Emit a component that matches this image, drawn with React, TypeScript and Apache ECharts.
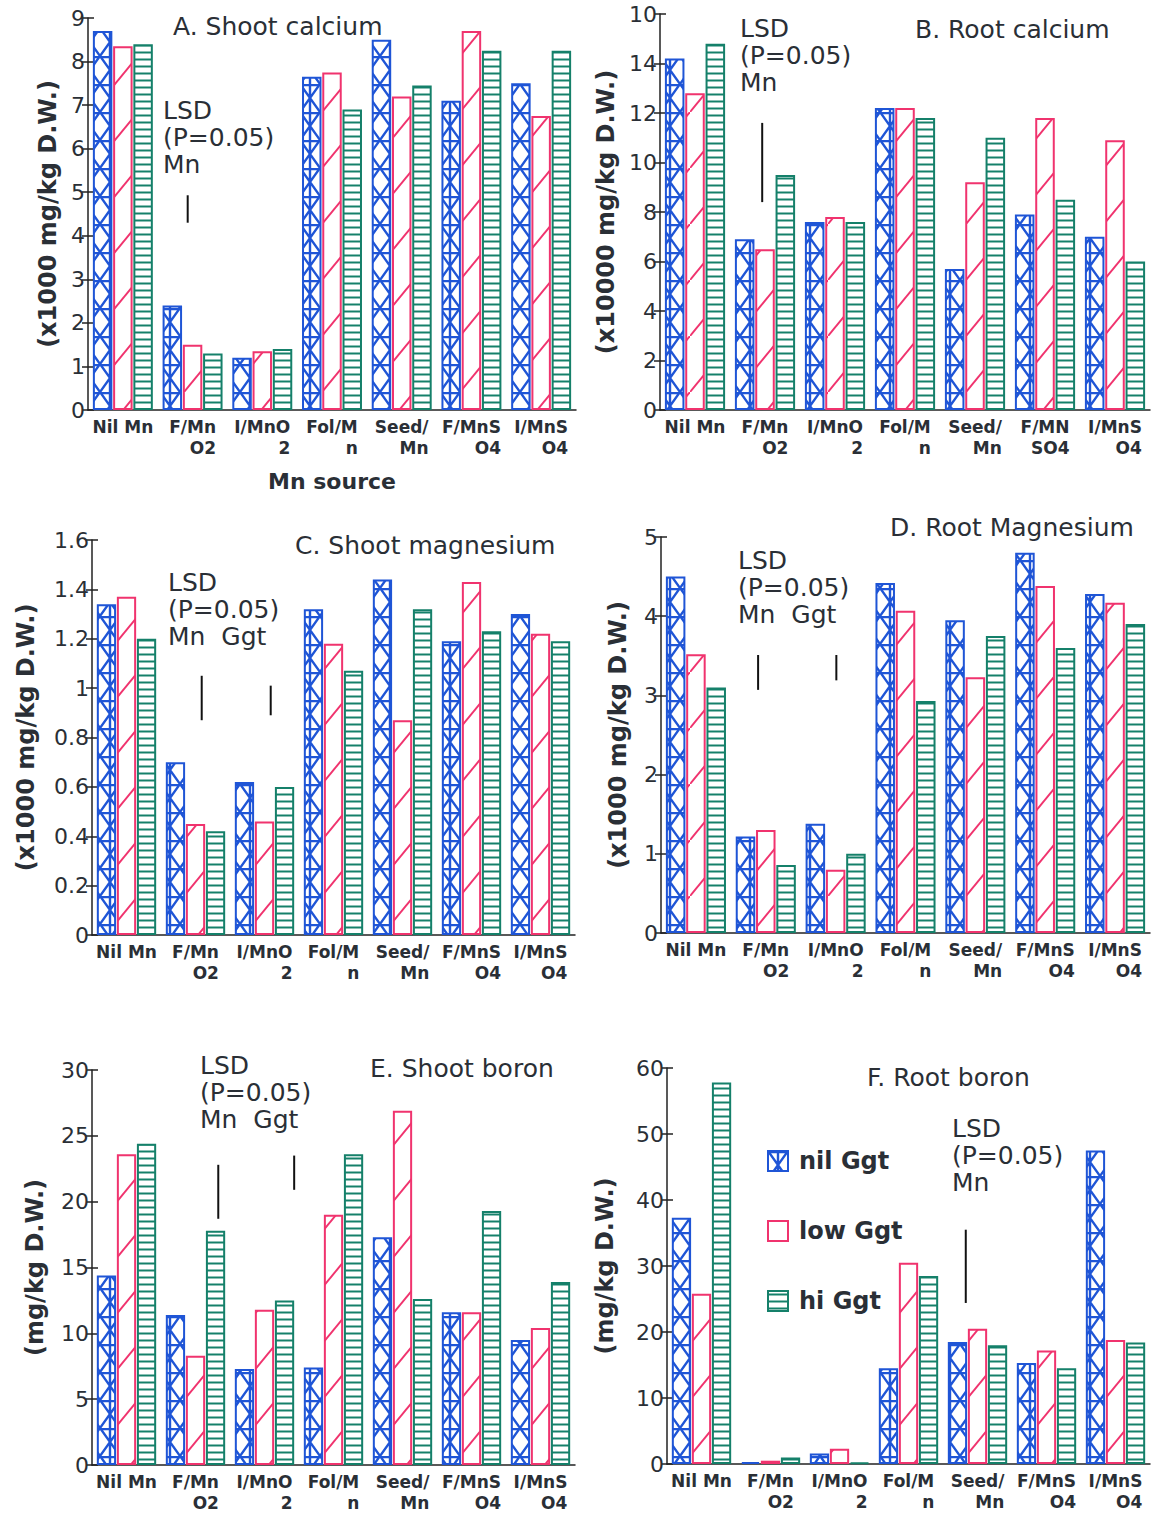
import React, { useEffect, useRef } from 'react';
import * as echarts from 'echarts';

const categories = ['Nil Mn', 'F/Mn\nO2', 'I/MnO\n2', 'Fol/M\nn', 'Seed/\nMn', 'F/MnS\nO4', 'I/MnS\nO4'];
const categoriesB = ['Nil Mn', 'F/Mn\nO2', 'I/MnO\n2', 'Fol/M\nn', 'Seed/\nMn', 'F/MN\nSO4', 'I/MnS\nO4'];
const seriesNames = ['nil Ggt', 'low Ggt', 'hi Ggt'];

// A. Shoot calcium (x1000 mg/kg)
const shootCaNil = [8.7, 2.4, 1.2, 7.65, 8.5, 7.1, 7.5];
const shootCaLow = [8.35, 1.5, 1.35, 7.75, 7.2, 8.7, 6.75];
const shootCaHi = [8.4, 1.3, 1.4, 6.9, 7.45, 8.25, 8.25];
// B. Root calcium (x10000 mg/kg)
const rootCaNil = [14.2, 6.9, 7.6, 12.2, 5.7, 7.9, 7.0];
const rootCaLow = [12.8, 6.5, 7.8, 12.2, 9.2, 11.8, 10.9];
const rootCaHi = [14.8, 9.5, 7.6, 11.8, 11.0, 8.5, 6.0];
// C. Shoot magnesium
const shootMgNil = [1.34, 0.70, 0.62, 1.32, 1.44, 1.19, 1.30];
const shootMgLow = [1.37, 0.45, 0.46, 1.18, 0.87, 1.43, 1.22];
const shootMgHi = [1.20, 0.42, 0.60, 1.07, 1.32, 1.23, 1.19];
// D. Root magnesium
const rootMgNil = [4.5, 1.22, 1.38, 4.42, 3.95, 4.8, 4.28];
const rootMgLow = [3.52, 1.3, 0.8, 4.07, 3.23, 4.38, 4.17];
const rootMgHi = [3.1, 0.86, 1.0, 2.93, 3.75, 3.6, 3.9];
// E. Shoot boron
const shootBNil = [14.4, 11.4, 7.3, 7.4, 17.3, 11.6, 9.5];
const shootBLow = [23.6, 8.3, 11.8, 19.0, 26.9, 11.6, 10.4];
const shootBHi = [24.4, 17.8, 12.5, 23.6, 12.6, 19.3, 13.9];
// F. Root boron
const rootBNil = [37.3, 0.3, 1.6, 14.5, 18.5, 15.3, 47.5];
const rootBLow = [25.8, 0.5, 2.3, 30.5, 20.5, 17.2, 18.8];
const rootBHi = [57.8, 1.0, 0.2, 28.5, 18.0, 14.5, 18.4];

// tick labels as printed
const ticksB = ['0', '2', '4', '6', '8', '10', '12', '14', '10'];

// LSD bars: [category index, offset in category widths, top value, bottom value]
const lsdA = [[1, -0.07, 4.93, 4.3]];
const lsdB = [[1, -0.04, 11.6, 8.4]];
const lsdC = [[1, 0.09, 1.05, 0.87], [2, 0.09, 1.01, 0.89]];
const lsdD = [[1, -0.11, 3.51, 3.07], [2, 0.01, 3.51, 3.19]];
const lsdE = [[1, 0.33, 22.8, 18.7], [2, 0.43, 23.5, 20.9]];
const lsdF = [[4, -0.17, 35.5, 24.4]];

const BLUE = '#1f55d6';
const RED = '#f0336e';
const GREEN = '#15806a';
const TXT = '#2a2f36';
const FONT = 'DejaVu Sans';

function makeCanvas(w: number, h: number, draw: (c: CanvasRenderingContext2D) => void) {
  const cv = document.createElement('canvas');
  cv.width = w;
  cv.height = h;
  const c = cv.getContext('2d')!;
  c.fillStyle = '#ffffff';
  c.fillRect(0, 0, w, h);
  draw(c);
  return cv;
}

export default function App() {
  const ref = useRef<HTMLDivElement>(null);
  useEffect(() => {
    document.body.style.margin = '0';
    const chart = echarts.init(ref.current!, undefined, { renderer: 'svg' });

    const blueCv = makeCanvas(20, 28, (c) => {
      c.strokeStyle = BLUE;
      c.lineWidth = 2.4;
      c.beginPath();
      c.moveTo(0, 1); c.lineTo(20, 1);
      c.moveTo(0, 0); c.lineTo(20, 28);
      c.moveTo(20, 0); c.lineTo(0, 28);
      c.moveTo(10, 0); c.lineTo(10, 28);
      c.stroke();
    });
    const redCv = makeCanvas(46, 56, (c) => {
      c.strokeStyle = RED;
      c.lineWidth = 2;
      c.beginPath();
      c.moveTo(-2, 56 + 2.4); c.lineTo(48, -2.4);
      c.stroke();
    });
    const greenCv = makeCanvas(4, 7, (c) => {
      c.strokeStyle = GREEN;
      c.lineWidth = 2;
      c.beginPath();
      c.moveTo(0, 3.5); c.lineTo(4, 3.5);
      c.stroke();
    });
    const pat = (cv: HTMLCanvasElement) => ({ image: cv, repeat: 'repeat', imageWidth: cv.width, imageHeight: cv.height });
    const fills = [pat(blueCv), pat(redCv), pat(greenCv)];
    const borders = [BLUE, RED, GREEN];

    const panels = [
      { cats: categories, data: [shootCaNil, shootCaLow, shootCaHi], grid: { left: 88, right: 587, top: 18, bottom: 1103 }, min: 0, max: 9, interval: 1, name: '(x1000 mg/kg D.W.)', nameGap: 28, lsd: lsdA, xName: 'Mn source', fmt: null as any },
      { cats: categoriesB, data: [rootCaNil, rootCaLow, rootCaHi], grid: { left: 660, right: 13, top: 14, bottom: 1103 }, min: 0, max: 16, interval: 2, name: '(x10000 mg/kg D.W.)', nameGap: 42, lsd: lsdB, xName: '', fmt: (v: number) => ticksB[Math.round(v / 2)] },
      { cats: categories, data: [shootMgNil, shootMgLow, shootMgHi], grid: { left: 92, right: 588, top: 540, bottom: 578 }, min: 0, max: 1.6, interval: 0.2, name: '(x1000 mg/kg D.W.)', nameGap: 54, lsd: lsdC, xName: '', fmt: null },
      { cats: categories, data: [rootMgNil, rootMgLow, rootMgHi], grid: { left: 661, right: 13, top: 537, bottom: 580 }, min: 0, max: 5, interval: 1, name: '(x1000 mg/kg D.W.)', nameGap: 31, lsd: lsdD, xName: '', fmt: null },
      { cats: categories, data: [shootBNil, shootBLow, shootBHi], grid: { left: 92, right: 588, top: 1070, bottom: 48 }, min: 0, max: 30, interval: 5, name: '(mg/kg D.W.)', nameGap: 45, lsd: lsdE, xName: '', fmt: null },
      { cats: categories, data: [rootBNil, rootBLow, rootBHi], grid: { left: 667, right: 13, top: 1068, bottom: 49 }, min: 0, max: 60, interval: 10, name: '(mg/kg D.W.)', nameGap: 50, lsd: lsdF, xName: '', fmt: null },
    ];

    const grids: any[] = [];
    const xAxes: any[] = [];
    const yAxes: any[] = [];
    const series: any[] = [];

    panels.forEach((p, i) => {
      grids.push({ ...p.grid, containLabel: false });
      xAxes.push({
        type: 'category',
        gridIndex: i,
        data: p.cats,
        boundaryGap: true,
        axisLine: { lineStyle: { color: '#222', width: 1.5 } },
        axisTick: { show: false },
        axisLabel: {
          interval: 0,
          margin: 6,
          formatter: (v: string) => v.split('\n').map((s) => `{r|${s}}`).join('\n'),
          rich: {
            r: { align: 'right', fontFamily: FONT, fontWeight: 'bold', fontSize: 17, color: TXT, lineHeight: 21 },
          },
        },
        name: p.xName,
        nameLocation: 'middle',
        nameGap: 60,
        nameTextStyle: { fontFamily: FONT, fontWeight: 'bold', fontSize: 22, color: TXT },
      });
      yAxes.push({
        type: 'value',
        gridIndex: i,
        min: p.min,
        max: p.max,
        interval: p.interval,
        splitLine: { show: false },
        axisLine: { show: true, lineStyle: { color: '#222', width: 1.5 } },
        axisTick: { show: true, length: 6, lineStyle: { color: '#222', width: 1.5 } },
        axisLabel: {
          margin: 3,
          fontFamily: FONT,
          fontSize: 22,
          color: TXT,
          ...(p.fmt ? { formatter: p.fmt } : {}),
        },
        name: p.name,
        nameLocation: 'middle',
        nameGap: p.nameGap,
        nameTextStyle: { fontFamily: FONT, fontSize: 24, fontWeight: 'bold', color: TXT },
      });
      // inner half of the crossing ticks
      yAxes.push({
        type: 'value',
        gridIndex: i,
        min: p.min,
        max: p.max,
        interval: p.interval,
        position: 'left',
        splitLine: { show: false },
        axisLine: { show: false },
        axisTick: { show: true, inside: true, length: 6, lineStyle: { color: '#222', width: 1.5 } },
        axisLabel: { show: false },
      });
      const yIdx = i * 2;
      p.data.forEach((vals, k) => {
        series.push({
          type: 'bar',
          name: seriesNames[k],
          xAxisIndex: i,
          yAxisIndex: yIdx,
          data: vals,
          barGap: '4%',
          barCategoryGap: '14%',
          itemStyle: { color: fills[k], borderColor: borders[k], borderWidth: 2 },
          emphasis: { disabled: true },
        });
      });
      series.push({
        type: 'custom',
        name: 'LSD' + i,
        xAxisIndex: i,
        yAxisIndex: yIdx,
        data: p.lsd,
        encode: { x: 0, y: [2, 3] },
        renderItem: (params: any, api: any) => {
          const c = api.value(0);
          const off = api.value(1);
          const p1 = api.coord([c, api.value(2)]);
          const p2 = api.coord([c, api.value(3)]);
          const bw = api.size([1, 0])[0];
          const x = p1[0] + off * bw;
          return {
            type: 'line',
            shape: { x1: x, y1: p1[1], x2: x, y2: p2[1] },
            style: { stroke: '#111', lineWidth: 2 },
          };
        },
      });
    });

    const titleStyle = { fontFamily: FONT, fontSize: 25, fontWeight: 'normal', color: TXT };
    const titles = [
      { text: 'A. Shoot calcium', left: 168, top: 9 },
      { text: 'B. Root calcium', left: 910, top: 12 },
      { text: 'C. Shoot magnesium', left: 290, top: 528 },
      { text: 'D. Root Magnesium', left: 885, top: 510 },
      { text: 'E. Shoot boron', left: 365, top: 1051 },
      { text: 'F. Root boron', left: 862, top: 1060 },
    ].map((t) => ({ ...t, textStyle: titleStyle }));

    const lsdText = (left: number, top: number, lines: string) => ({
      type: 'text',
      left,
      top,
      style: { text: lines, font: `25px "${FONT}"`, fill: TXT, lineHeight: 27 },
    });

    chart.setOption({
      animation: false,
      backgroundColor: '#ffffff',
      title: titles,
      legend: {
        data: seriesNames,
        orient: 'vertical',
        left: 762,
        top: 1144,
        itemGap: 46,
        itemWidth: 20,
        itemHeight: 20,
        icon: 'rect',
        textStyle: { fontFamily: FONT, fontSize: 24, fontWeight: 'bold', color: TXT, padding: [0, 0, 0, 6] },
        selectedMode: false,
      },
      grid: grids,
      xAxis: xAxes,
      yAxis: yAxes,
      series,
      graphic: [
        lsdText(163, 97, 'LSD\n(P=0.05)\nMn'),
        lsdText(740, 15, 'LSD\n(P=0.05)\nMn'),
        lsdText(168, 569, 'LSD\n(P=0.05)\nMn  Ggt'),
        lsdText(738, 547, 'LSD\n(P=0.05)\nMn  Ggt'),
        lsdText(200, 1052, 'LSD\n(P=0.05)\nMn  Ggt'),
        lsdText(952, 1115, 'LSD\n(P=0.05)\nMn'),
      ],
    });
    return () => chart.dispose();
  }, []);
  return <div ref={ref} style={{ width: 1163, height: 1513 }} />;
}
